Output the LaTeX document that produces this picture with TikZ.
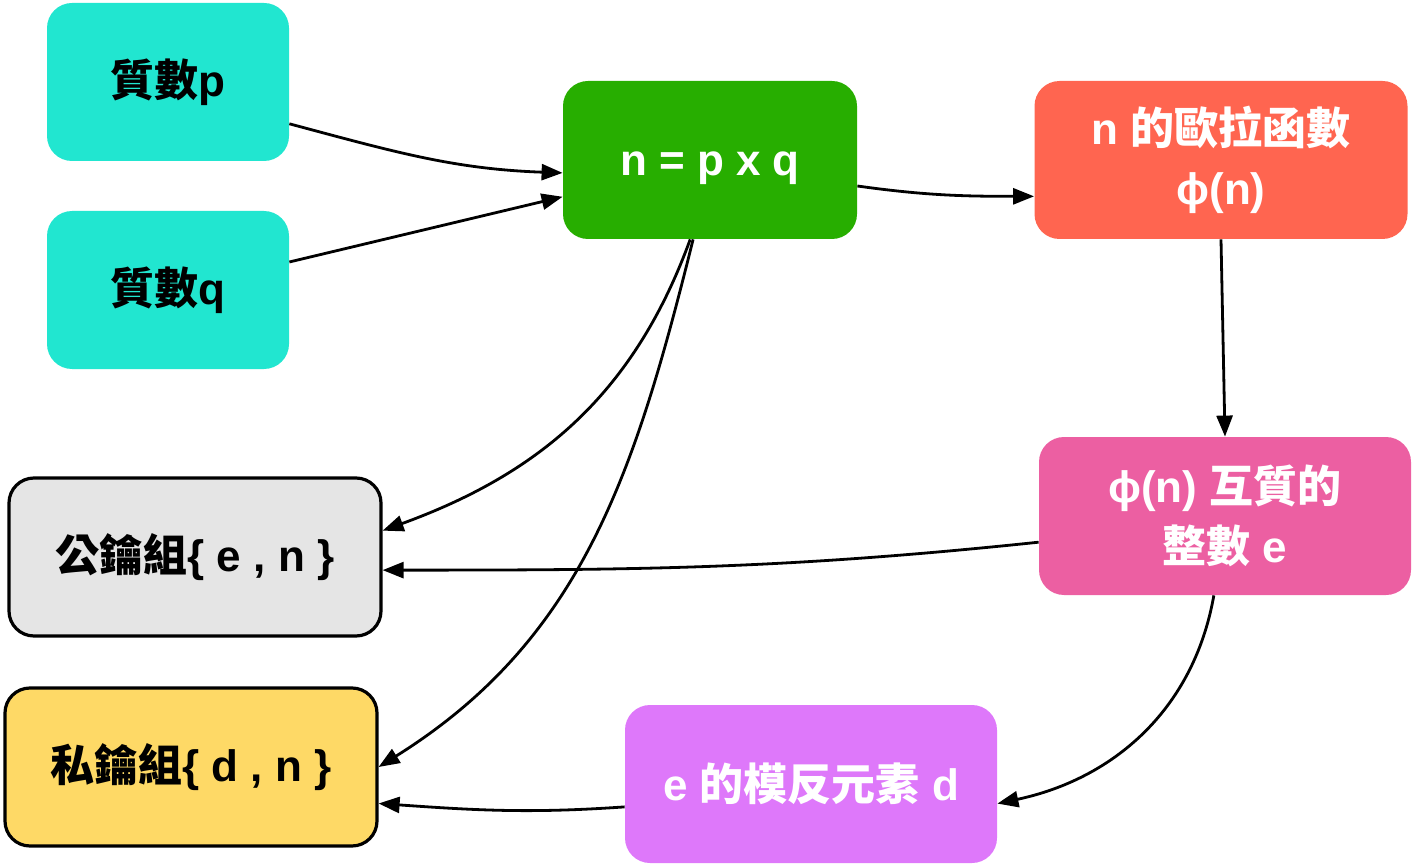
\documentclass[tikz,border=0pt]{standalone}
\usepackage{fontspec}
\setmainfont{Liberation Sans}
\newfontfamily\cjk{Noto Sans CJK TC}
\newcommand{\zh}[1]{{\cjk #1}}
\usetikzlibrary{arrows.meta}
\definecolor{primecol}{HTML}{21E6D0}
\definecolor{prodcol}{HTML}{27AE00}
\definecolor{eulercol}{HTML}{FF6550}
\definecolor{coprimecol}{HTML}{EC5FA2}
\definecolor{inversecol}{HTML}{DE78FA}
\definecolor{pubcol}{HTML}{E5E5E5}
\definecolor{privcol}{HTML}{FED966}

\begin{document}
\begin{tikzpicture}[x=0.5pt,y=-0.5pt,
  box/.style={rounded corners=12.5pt,align=center,inner sep=0pt,
    minimum height=79pt,font=\fontsize{22}{30}\selectfont\bfseries,text=white},
  keybox/.style={box,draw=black,line width=1.6pt,text=black},
  edge/.style={-{Triangle[length=10.5pt,width=8pt]},line width=1.4pt}]
\useasboundingbox (0,0) rectangle (1414,866);
\node[box,fill=primecol,text=black,minimum width=121pt] (p) at (168,82) {\zh{質數}p};
\node[box,fill=primecol,text=black,minimum width=121pt] (q) at (168,290) {\zh{質數}q};
\node[box,fill=prodcol,minimum width=147pt,text height=16pt,text depth=0pt] (n) at (710,160) {n = p x q};
\node[box,fill=eulercol,minimum width=186.5pt] (phi) at (1221,160) {n \zh{的歐拉函數}\\ϕ(n)};
\node[box,fill=coprimecol,minimum width=186pt] (e) at (1225,516) {ϕ(n) \zh{互質的}\\\zh{整數} e};
\node[keybox,fill=pubcol,minimum width=186pt] (pub) at (195,557) {\zh{公鑰組}\{ e , n \}};
\node[keybox,fill=privcol,minimum width=186pt] (priv) at (191,767) {\zh{私鑰組}\{ d , n \}};
\node[box,fill=inversecol,minimum width=186pt] (d) at (811,784) {e \zh{的模反元素} d};
\draw[edge] (p.-19) to[out=-15,in=178] (n.185);
\draw[edge] (q.13) -- (n.194);
\draw[edge] (n.-10) to[out=-8,in=180] (phi.191);
\draw[edge] (phi.south) -- (e.north);
\draw[edge] (n.-104) to[out=-110,in=20] (pub.8);
\draw[edge] (n.-102) to[out=-104,in=32] (priv.0);
\draw[edge] (e.188) to[out=186,in=0] (pub.-4);
\draw[edge] (e.-98) to[out=-100,in=12] (d.-6);
\draw[edge] (d.187) to[out=184,in=-4] (priv.-11);
\end{tikzpicture}
\end{document}
